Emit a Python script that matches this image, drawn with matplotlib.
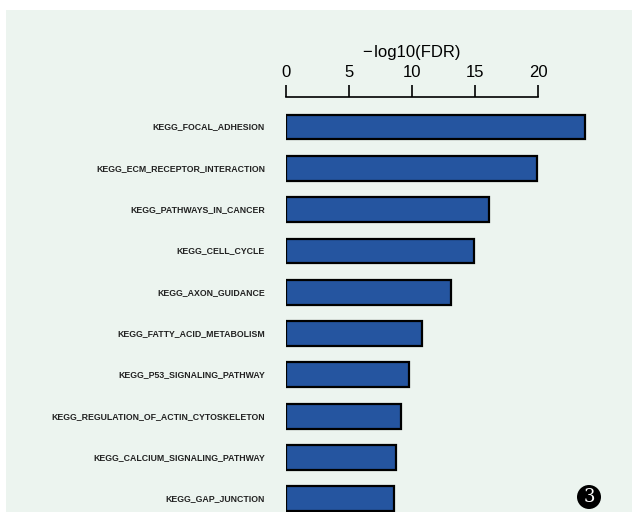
import matplotlib
matplotlib.use("Agg")
import matplotlib.pyplot as plt
from matplotlib.patches import Rectangle, Ellipse

pathways = [
    "KEGG_FOCAL_ADHESION",
    "KEGG_ECM_RECEPTOR_INTERACTION",
    "KEGG_PATHWAYS_IN_CANCER",
    "KEGG_CELL_CYCLE",
    "KEGG_AXON_GUIDANCE",
    "KEGG_FATTY_ACID_METABOLISM",
    "KEGG_P53_SIGNALING_PATHWAY",
    "KEGG_REGULATION_OF_ACTIN_CYTOSKELETON",
    "KEGG_CALCIUM_SIGNALING_PATHWAY",
    "KEGG_GAP_JUNCTION",
]
neg_log_fdr = [23.7, 19.9, 16.1, 14.9, 13.1, 10.8, 9.8, 9.1, 8.7, 8.6]
x_ticks = [0, 5, 10, 15, 20]

W, H = 632, 512
fig = plt.figure(figsize=(W / 100, H / 100), dpi=100)
fig.patch.set_facecolor("white")

bg = "#ecf4ef"
fig.patches.append(Rectangle((6 / W, 0), 1 - 6 / W, (H - 10) / H,
                             transform=fig.transFigure, facecolor=bg,
                             edgecolor="none", zorder=-10))

# axes: x=0 at 286px, 12.6 px per unit; top spine at y=97px
x0_px, px_per_unit = 286, 12.6
ax_w_px = 334
ax = fig.add_axes([x0_px / W, 0, ax_w_px / W, (H - 97) / H])
ax.set_facecolor("none")
ax.set_zorder(2)
ax.set_xlim(0, ax_w_px / px_per_unit)
ax.set_ylim(9.32, -0.726)

ypos = list(range(len(pathways)))
ax.barh(ypos, neg_log_fdr, height=0.6, color="#2555a0",
        edgecolor="black", linewidth=1.6, left=0)

for s in ("bottom", "left", "right"):
    ax.spines[s].set_visible(False)
ax.spines["top"].set_bounds(0, 20)
ax.spines["top"].set_linewidth(1.2)
ax.xaxis.tick_top()
ax.xaxis.set_label_position("top")
ax.set_xticks(x_ticks)
ax.set_xticklabels([str(t) for t in x_ticks], fontsize=12,
                   family="Liberation Sans")
ax.tick_params(axis="x", direction="out", length=9, width=1.2, pad=3)
ax.set_yticks([])

fig.text((286 + 538) / 2 / W, 1 - 52 / H, "\u2212\u200alog10(FDR)", ha="center",
         va="center", fontsize=12, family=["Liberation Sans", "DejaVu Sans"])

for y, name in zip(ypos, pathways):
    ax.text(-21 / px_per_unit, y, name, ha="right", va="center",
            fontsize=6.3, family="Liberation Sans", fontweight="bold",
            color="#222222", clip_on=False)

# circled panel number
cx, cy, d = 589, 497, 24
fig.patches.append(Ellipse((cx / W, 1 - cy / H), d / W, d / H,
                           transform=fig.transFigure, facecolor="black",
                           edgecolor="none", zorder=5))
fig.text(cx / W, 1 - cy / H, "3", ha="center", va="center", color="white",
         fontsize=13, family="DejaVu Serif", zorder=6)

fig.savefig("out.png", dpi=100, facecolor="white")
